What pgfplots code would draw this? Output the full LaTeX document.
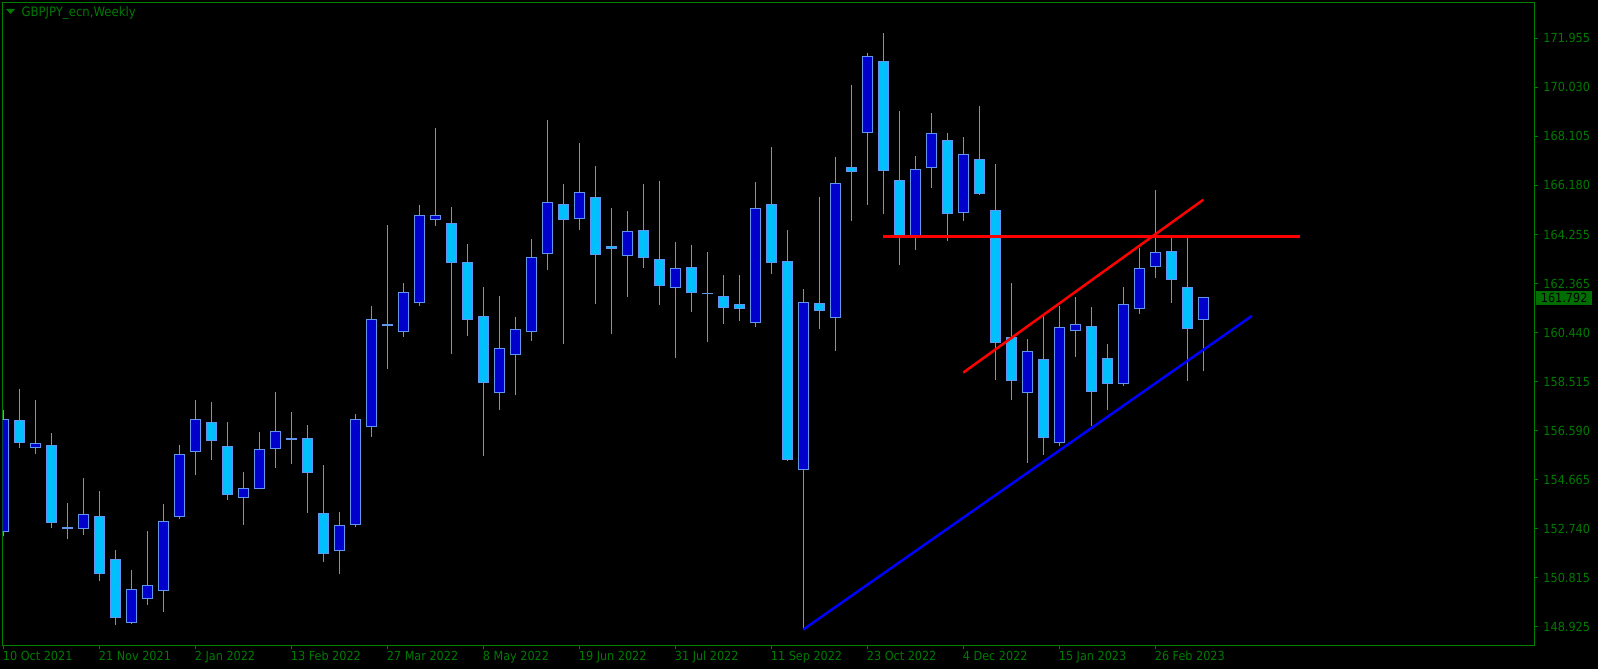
\documentclass[border=0pt]{standalone}
\usepackage{fontspec}
\setmainfont{DejaVu Sans Condensed}
\usepackage{pgfplots}
\usepackage{pgfplotstable}
\pgfplotsset{compat=1.18}
\definecolor{mtframe}{RGB}{0,128,0}
\definecolor{mttext}{RGB}{0,122,0}
\definecolor{mtbox}{RGB}{0,110,0}
\definecolor{bull}{RGB}{0,0,205}
\definecolor{bear}{RGB}{0,191,255}
\definecolor{wick}{RGB}{100,149,237}

\pgfplotstableread{
k o h l c
0 152.635 157.415 152.484 157.030
1 156.997 158.217 155.910 156.128
2 155.927 157.782 155.693 156.094
3 156.027 156.495 152.768 152.986
4 152.800 153.754 152.350 152.780
5 152.752 154.740 152.518 153.303
6 153.236 154.222 150.696 150.997
7 151.565 151.916 148.975 149.275
8 149.075 151.130 149.025 150.378
9 150.011 152.651 149.760 150.529
10 150.328 153.721 149.493 153.036
11 153.220 156.027 153.136 155.660
12 155.793 157.782 154.874 157.030
13 156.913 157.715 155.442 156.194
14 155.977 156.930 153.871 154.089
15 153.972 154.974 152.919 154.323
16 154.323 156.529 154.300 155.860
17 155.894 158.100 155.142 156.562
18 156.270 157.314 155.292 156.250
19 156.278 156.813 153.387 154.941
20 153.353 155.242 151.465 151.782
21 151.899 153.403 150.997 152.885
22 152.919 157.247 152.835 157.030
23 156.763 161.492 156.362 160.941
24 160.750 164.651 159.019 160.730
25 160.473 162.378 160.272 162.011
26 161.609 165.420 161.492 165.019
27 164.852 168.445 164.618 165.019
28 164.701 165.353 159.604 163.181
29 163.181 163.899 160.306 160.941
30 161.058 162.211 155.609 158.467
31 158.083 161.860 157.415 159.804
32 159.571 161.041 157.999 160.557
33 160.473 164.100 160.122 163.381
34 163.531 168.763 162.896 165.537
35 165.453 166.256 160.005 164.852
36 164.902 167.860 164.467 165.921
37 165.721 166.958 161.543 163.481
38 163.799 165.303 160.389 163.715
39 163.448 165.186 161.843 164.401
40 164.434 166.256 162.963 163.364
41 163.297 166.373 161.509 162.278
42 162.194 163.983 159.454 162.947
43 162.980 163.866 161.242 161.994
44 161.970 163.582 160.072 161.950
45 161.843 162.679 160.774 161.409
46 161.526 162.679 160.908 161.375
47 160.824 166.323 160.657 165.286
48 165.453 167.693 162.746 163.181
49 163.214 164.451 155.409 155.459
50 155.075 162.161 148.807 161.609
51 161.576 165.738 160.573 161.292
52 161.025 167.309 159.704 166.272
53 166.908 170.133 164.802 166.740
54 168.261 171.387 165.437 171.253
55 171.052 172.172 165.069 166.774
56 166.389 169.114 163.064 164.250
57 164.217 167.342 163.665 166.824
58 166.891 169.030 166.105 168.228
59 167.960 168.245 164.016 165.086
60 165.136 168.094 164.802 167.409
61 167.208 169.314 165.821 165.871
62 165.219 167.041 158.584 160.038
63 160.239 162.378 157.782 158.551
64 158.083 160.172 155.325 159.687
65 159.387 161.175 155.643 156.311
66 156.128 161.476 155.994 160.640
67 160.506 161.843 159.470 160.757
68 160.674 161.426 156.779 158.116
69 159.420 159.988 157.398 158.434
70 158.434 162.211 158.350 161.526
71 161.375 163.765 161.158 162.947
72 163.013 166.022 162.562 163.565
73 163.615 164.150 161.593 162.512
74 162.194 164.150 158.551 160.590
75 160.958 161.843 158.919 161.792
}\candles

\begin{document}
\begin{tikzpicture}[x=1pt,y=1pt]
\useasboundingbox (0,0) rectangle (1598,669);
\fill[black] (0,0) rectangle (1598,669);
\begin{axis}[
  at={(2.7pt,23.7pt)}, anchor=south west,
  scale only axis, width=1531.6pt, height=642.7pt,
  xmin=-0.04, xmax=95.69, ymin=148.189, ymax=173.359,
  axis line style={draw=mtframe, line width=1pt},
  clip mode=individual,
  xtick={0,6,...,72},
  xticklabels={10 Oct 2021,21 Nov 2021,2 Jan 2022,13 Feb 2022,27 Mar 2022,8 May 2022,19 Jun 2022,31 Jul 2022,11 Sep 2022,23 Oct 2022,4 Dec 2022,15 Jan 2023,26 Feb 2023},
  ytick={148.925,150.8442,152.7634,154.6826,156.6018,158.521,160.4402,162.3594,164.2786,166.1978,168.117,170.0362,171.9554},
  yticklabels={148.925,150.815,152.740,154.665,156.590,158.515,160.440,162.365,164.255,166.180,168.105,170.030,171.955},
  xtick pos=left, ytick pos=right, yticklabel pos=right,
  tick align=outside, major tick length=4pt,
  every tick/.style={draw=mtframe, line width=1pt},
  ticklabel style={font=\fontsize{12.5}{14}\selectfont, text=mttext, inner sep=0pt},
  xticklabel style={anchor=north west, xshift=-0.6pt, yshift=-2pt},
  yticklabel style={anchor=west, xshift=5pt},
]
\pgfplotsinvokeforeach{0,...,75}{%
  \pgfplotstablegetelem{#1}{o}\of\candles \let\vo\pgfplotsretval
  \pgfplotstablegetelem{#1}{h}\of\candles \let\vh\pgfplotsretval
  \pgfplotstablegetelem{#1}{l}\of\candles \let\vl\pgfplotsretval
  \pgfplotstablegetelem{#1}{c}\of\candles \let\vc\pgfplotsretval
  \pgfmathsetmacro\xa{#1-0.31}%
  \pgfmathsetmacro\xb{#1+0.31}%
  \ifdim\vc pt>\vo pt \def\bodycol{bull}\else\def\bodycol{bear}\fi
  \edef\doit{%
    \noexpand\addplot[draw=wick, line width=1pt] coordinates {(#1,\vl) (#1,\vh)};
    \noexpand\addplot[draw=wick, fill=\bodycol, line width=1pt] coordinates {(\xa,\vo) (\xb,\vo) (\xb,\vc) (\xa,\vc)} -- cycle;
  }\doit
}
\addplot[draw=red, line width=2.5pt] coordinates {(54.96,164.2) (81.04,164.2)};
\addplot[draw=red, line width=2.5pt] coordinates {(60,158.869) (75,165.637)};
\addplot[draw=blue, line width=2.5pt] coordinates {(50,148.807) (78.04,161.091)};
\node[fill=mtbox, text=black, anchor=west, inner sep=0pt, minimum width=56pt, minimum height=14pt, font=\fontsize{12.5}{14}\selectfont, xshift=1.7pt]
  at ({rel axis cs:1,0}|-{axis cs:0,161.792}) {161.792};
\end{axis}
\fill[mttext] (6,660) -- (15,660) -- (10.5,655) -- cycle;
\node[anchor=base west, inner sep=0pt, text=mttext, font=\fontsize{13}{15}\selectfont] at (21.3,652.3) {GBPJPY\_ecn,Weekly};
\end{tikzpicture}
\end{document}
